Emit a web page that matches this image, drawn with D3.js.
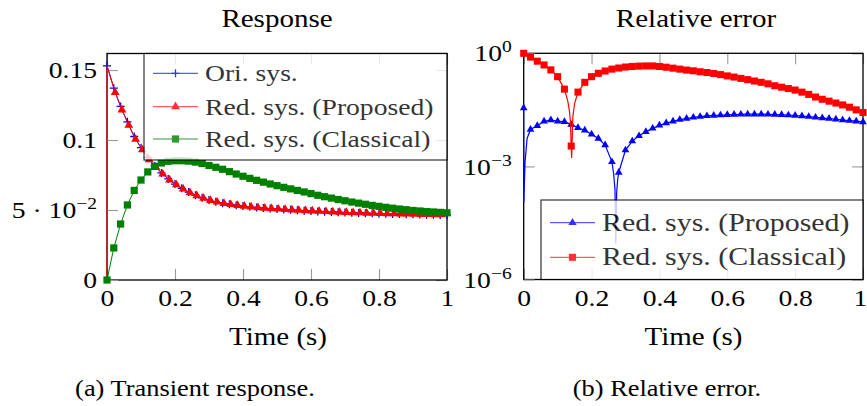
<!DOCTYPE html>
<html>
<head>
<meta charset="utf-8">
<script src="https://cdnjs.cloudflare.com/ajax/libs/d3/7.8.5/d3.min.js"></script>
<style>
  body { margin: 0; background: #fff; }
  svg text { font-family: "Liberation Serif", "Times New Roman", serif; fill: #000; }
</style>
</head>
<body>
<script>

// ---- data ----
// marker grid, step 0.02 s
var timeGrid = d3.range(51).map(function(i) { return i / 50; });
var xTickValues = [0, 0.2, 0.4, 0.6, 0.8, 1];

// (a) transient response
var respOriginal = [
  0.153, 0.137, 0.124, 0.113, 0.1025, 0.0945, 0.0875, 0.0815, 0.0765, 0.0722,
  0.0685, 0.0655, 0.0628, 0.0606, 0.0587, 0.0572, 0.0559, 0.0549, 0.0541, 0.0534,
  0.0528, 0.0523, 0.0518, 0.0514, 0.0510, 0.0507, 0.0504, 0.0501, 0.0498, 0.0495,
  0.0493, 0.0490, 0.0488, 0.0486, 0.0484, 0.0482, 0.0480, 0.0479, 0.0477, 0.0476,
  0.0474, 0.0473, 0.0472, 0.0471, 0.0470, 0.0469, 0.0468, 0.0467, 0.0466, 0.0465,
  0.0464];
// proposed reduced system is sampled a little later than the grid, starts at 0
var respProposedTime = [0, 0].concat(d3.range(50).map(function(i) { return 0.004 + i / 50; }));
var respProposed = [
  0, 0.153,
  0.150, 0.134, 0.1215, 0.1105, 0.1005, 0.093, 0.086, 0.0805, 0.0757, 0.0715,
  0.068, 0.065, 0.0624, 0.0602, 0.0584, 0.0569, 0.0557, 0.0547, 0.0539, 0.0533,
  0.0527, 0.0522, 0.0517, 0.0513, 0.0510, 0.0507, 0.0504, 0.0501, 0.0498, 0.0495,
  0.0493, 0.0491, 0.0489, 0.0487, 0.0485, 0.0483, 0.0481, 0.0480, 0.0478, 0.0477,
  0.0476, 0.0474, 0.0473, 0.0472, 0.0471, 0.0470, 0.0469, 0.0468, 0.0467, 0.0466];
var respClassical = [
  0, 0.0229, 0.040, 0.0536, 0.0640, 0.0714, 0.0772, 0.0812, 0.0836, 0.0848,
  0.0852, 0.0852, 0.0849, 0.0842, 0.0832, 0.0818, 0.0805, 0.0791, 0.0774, 0.0757,
  0.0741, 0.0726, 0.0712, 0.0699, 0.0686, 0.0674, 0.0662, 0.0651, 0.0640, 0.0629,
  0.0617, 0.0605, 0.0595, 0.0585, 0.0575, 0.0566, 0.0557, 0.0549, 0.0541, 0.0533,
  0.0526, 0.0519, 0.0513, 0.0507, 0.0502, 0.0497, 0.0493, 0.0489, 0.0486, 0.0483,
  0.0480];
var respYTicks = [0, 0.05, 0.1, 0.15];
var respYLabels = ["0", "5 \u00b7 10^\u22122", "0.1", "0.15"];

// (b) relative error, on timeGrid
var errProposed = [
  0.0355, 0.00955, 0.0120, 0.0158, 0.0170, 0.0158, 0.0153, 0.0130, 0.0106, 0.0091,
  0.0071, 0.0055, 0.0037, 0.00132, 0.00069, 0.0027, 0.00468, 0.00646, 0.00832, 0.0102,
  0.0123, 0.0141, 0.0158, 0.0174, 0.0186, 0.0200, 0.0209, 0.0219, 0.0224, 0.0229,
  0.0234, 0.0237, 0.0240, 0.0243, 0.0243, 0.0243, 0.0240, 0.0237, 0.0234, 0.0229,
  0.0224, 0.0216, 0.0209, 0.0200, 0.0193, 0.0186, 0.0178, 0.0170, 0.0164, 0.0158,
  0.0151];
var errClassical = [
  1.0, 0.794, 0.617, 0.490, 0.363, 0.240, 0.112, 0.00347, 0.0933, 0.170,
  0.240, 0.295, 0.339, 0.380, 0.407, 0.432, 0.447, 0.457, 0.462, 0.462,
  0.447, 0.427, 0.403, 0.380, 0.359, 0.343, 0.324, 0.309, 0.292, 0.272,
  0.251, 0.234, 0.216, 0.200, 0.184, 0.170, 0.155, 0.138, 0.126, 0.116,
  0.106, 0.0933, 0.0813, 0.0692, 0.0603, 0.0537, 0.0479, 0.0427, 0.0372, 0.0316,
  0.0269];
// line-only samples (start and the notches)
var errProposedExtra = [[0.0003, 1.1e-4], [0.004, 0.00132], [0.01, 0.0055],
  [0.265, 0.00065], [0.269, 0.00025], [0.2715, 9e-6], [0.274, 0.0002], [0.277, 0.00045]];
var errClassicalExtra = [[0.13, 0.054], [0.135, 0.0285], [0.1375, 0.016],
  [0.1412, 0.00166], [0.145, 0.0215], [0.15, 0.0465]];
var errYTicks = [1e-6, 1e-3, 1];
var errYLabels = ["10^\u22126", "10^\u22123", "10^0"];

// ---- helpers ----
var svg = d3.select("body").append("svg")
            .attr("width", 867)
            .attr("height", 406);

var pairs = function(ts, vs) {
  return ts.map(function(t, i) { return [t, vs[i]]; });
};

// Times is narrower than the LaTeX font, stretch it a bit
var widen = function(sel, k) {
  sel.each(function() {
    var w = this.getComputedTextLength();
    d3.select(this).attr("textLength", w * k).attr("lengthAdjust", "spacingAndGlyphs");
  });
};

// tick text with an optional "^" superscript
var supLabel = function(sel, labels) {
  sel.selectAll(".tick text").each(function(d, i) {
    var parts = labels[i].split("^");
    var t = d3.select(this).text(null);
    t.append("tspan").text(parts[0]);
    if (parts.length > 1) {
      t.append("tspan").attr("dy", -9).attr("font-size", 17).text(parts[1]);
    }
  });
};

var styleAxis = function(g) {
  g.attr("font-size", 24).attr("font-family", null);
  g.select(".domain").remove();
  g.selectAll(".tick line").attr("stroke", "#999").attr("stroke-width", 1.1);
  g.selectAll(".tick text").attr("fill", "#000");
};

var plusPath = "M-4,0H4M0,-4V4";

var drawMarks = function(g, pts, x, y, color, kind, size) {
  var m = g.selectAll(null).data(pts).enter().append("path")
           .attr("transform", function(d) { return "translate(" + x(d[0]) + "," + y(d[1]) + ")"; });
  if (kind === "plus") {
    m.attr("d", plusPath).attr("stroke", color).attr("stroke-width", 1.3).attr("fill", "none");
  } else {
    var sym = kind === "triangle" ? d3.symbolTriangle : d3.symbolSquare;
    m.attr("d", d3.symbol().type(sym).size(size)).attr("fill", color);
  }
};

var drawFrame = function(g, x, y, xTicks, yTicks) {
  var x0 = x.range()[0], x1 = x.range()[1], y0 = y.range()[0], y1 = y.range()[1];
  g.append("g").attr("class", "xbottom").attr("transform", "translate(0," + y0 + ")")
   .call(d3.axisBottom(x).tickValues(xTicks).tickSizeInner(-11).tickSizeOuter(0).tickPadding(9)
           .tickFormat(function(d) { return String(d); }))
   .call(styleAxis);
  g.append("g").attr("transform", "translate(0," + y1 + ")")
   .call(d3.axisTop(x).tickValues(xTicks).tickSizeInner(-11).tickSizeOuter(0).tickFormat(""))
   .call(styleAxis);
  g.append("g").attr("transform", "translate(" + x1 + ",0)")
   .call(d3.axisRight(y).tickValues(yTicks).tickSizeInner(-11).tickSizeOuter(0).tickFormat(""))
   .call(styleAxis);
  g.append("rect")
   .attr("x", x0).attr("y", y1)
   .attr("width", x1 - x0).attr("height", y0 - y1)
   .attr("fill", "none").attr("stroke", "#000").attr("stroke-width", 1.3);
};

var drawLegend = function(g, box, entries, rowY, fontSize) {
  var lg = g.append("g").attr("opacity", 0.8);
  lg.append("rect")
    .attr("x", box[0]).attr("y", box[1])
    .attr("width", box[2] - box[0]).attr("height", box[3] - box[1])
    .attr("fill", "#fff").attr("stroke", "#000").attr("stroke-width", 1.2);
  entries.forEach(function(e, i) {
    var cy = rowY[i];
    lg.append("line")
      .attr("x1", box[0] + 9).attr("x2", box[0] + 54)
      .attr("y1", cy).attr("y2", cy)
      .attr("stroke", e.color).attr("stroke-width", 1);
    var mx = box[0] + 31.5;
    if (e.kind === "plus") {
      lg.append("path").attr("d", plusPath).attr("transform", "translate(" + mx + "," + cy + ")")
        .attr("stroke", e.color).attr("stroke-width", 1.3).attr("fill", "none");
    } else {
      lg.append("path")
        .attr("d", d3.symbol().type(e.kind === "triangle" ? d3.symbolTriangle : d3.symbolSquare).size(e.size))
        .attr("transform", "translate(" + mx + "," + cy + ")")
        .attr("fill", e.color);
    }
    lg.append("text")
      .attr("class", "legtext")
      .attr("x", box[0] + 61).attr("y", cy + 8)
      .attr("font-size", fontSize)
      .text(e.label);
  });
};

var line = function(x, y) {
  return d3.line().x(function(d) { return x(d[0]); }).y(function(d) { return y(d[1]); });
};

// ---- (a) transient response ----
var xA = d3.scaleLinear().domain([0, 1]).range([107, 447]);
var yA = d3.scaleLinear().domain([0, 0.1618]).range([280, 53.5]);
var gA = svg.append("g");

drawFrame(gA, xA, yA, xTickValues, respYTicks);
gA.append("g").attr("transform", "translate(107,0)")
  .call(d3.axisLeft(yA).tickValues(respYTicks).tickSizeInner(-11).tickSizeOuter(0).tickPadding(10))
  .call(styleAxis)
  .call(supLabel, respYLabels);

var oriPts = pairs(timeGrid, respOriginal);
var propPts = pairs(respProposedTime, respProposed);
var clasPts = pairs(timeGrid, respClassical);

gA.append("path").datum(oriPts).attr("d", line(xA, yA))
  .attr("fill", "none").attr("stroke", "#00f").attr("stroke-width", 1);
drawMarks(gA, oriPts, xA, yA, "#00f", "plus");
gA.append("path").datum(propPts).attr("d", line(xA, yA))
  .attr("fill", "none").attr("stroke", "#f00").attr("stroke-width", 1);
drawMarks(gA, propPts.slice(3), xA, yA, "#f00", "triangle", 34);
gA.append("path").datum(clasPts).attr("d", line(xA, yA))
  .attr("fill", "none").attr("stroke", "#008000").attr("stroke-width", 1);
drawMarks(gA, clasPts, xA, yA, "#008000", "square", 52);

drawLegend(gA, [144, 53.5, 447, 160], [
  {label: "Ori. sys.", color: "#00f", kind: "plus"},
  {label: "Red. sys. (Proposed)", color: "#f00", kind: "triangle", size: 34},
  {label: "Red. sys. (Classical)", color: "#008000", kind: "square", size: 52}
], [73.3, 106.7, 139], 24);

gA.append("text").attr("class", "label").attr("x", 277).attr("y", 27).attr("text-anchor", "middle")
  .attr("font-size", 25).text("Response");
gA.append("text").attr("class", "label").attr("x", 278).attr("y", 345).attr("text-anchor", "middle")
  .attr("font-size", 25).text("Time (s)");
gA.append("text").attr("class", "caption").attr("x", 195).attr("y", 396).attr("text-anchor", "middle")
  .attr("font-size", 24).text("(a) Transient response.");

// ---- (b) relative error ----
var xB = d3.scaleLinear().domain([0, 1]).range([523.7, 863]);
var yB = d3.scaleLog().domain([1e-6, 1]).range([279.5, 53.3]);
var gB = svg.append("g");

drawFrame(gB, xB, yB, xTickValues, errYTicks);
gB.append("g").attr("transform", "translate(523.7,0)")
  .call(d3.axisLeft(yB).tickValues(errYTicks).tickSizeInner(-11).tickSizeOuter(0).tickPadding(12))
  .call(styleAxis)
  .call(supLabel, errYLabels);

var propErrMarks = pairs(timeGrid, errProposed);
var clasErrMarks = pairs(timeGrid, errClassical);
var byTime = function(a, b) { return a[0] - b[0]; };
var propErrLine = propErrMarks.concat(errProposedExtra).sort(byTime);
var clasErrLine = clasErrMarks.concat(errClassicalExtra).sort(byTime);

gB.append("path").datum(propErrLine).attr("d", line(xB, yB))
  .attr("fill", "none").attr("stroke", "#00f").attr("stroke-width", 1.2);
drawMarks(gB, propErrMarks, xB, yB, "#00f", "triangle", 26);
gB.append("path").datum(clasErrLine).attr("d", line(xB, yB))
  .attr("fill", "none").attr("stroke", "#f00").attr("stroke-width", 1.2);
drawMarks(gB, clasErrMarks, xB, yB, "#f00", "square", 50);

drawLegend(gB, [541, 200, 863, 279.5], [
  {label: "Red. sys. (Proposed)", color: "#00f", kind: "triangle", size: 30},
  {label: "Red. sys. (Classical)", color: "#f00", kind: "square", size: 50}
], [222.7, 257.3], 26);

gB.append("text").attr("class", "label").attr("x", 696).attr("y", 27).attr("text-anchor", "middle")
  .attr("font-size", 25).text("Relative error");
gB.append("text").attr("class", "label").attr("x", 693.5).attr("y", 345).attr("text-anchor", "middle")
  .attr("font-size", 25).text("Time (s)");
gB.append("text").attr("class", "caption").attr("x", 667).attr("y", 396).attr("text-anchor", "middle")
  .attr("font-size", 24).text("(b) Relative error.");

// the "1" at the right edge sits a little inside
gB.select(".xbottom").selectAll(".tick text").filter(function(d) { return d === 1; }).attr("dx", -3);

// stretch texts toward the LaTeX widths
widen(svg.selectAll(".tick text"), 1.15);
widen(svg.selectAll(".legtext"), 1.15);
widen(svg.selectAll(".label"), 1.16);
widen(svg.selectAll(".caption"), 1.1);

</script>
</body>
</html>
